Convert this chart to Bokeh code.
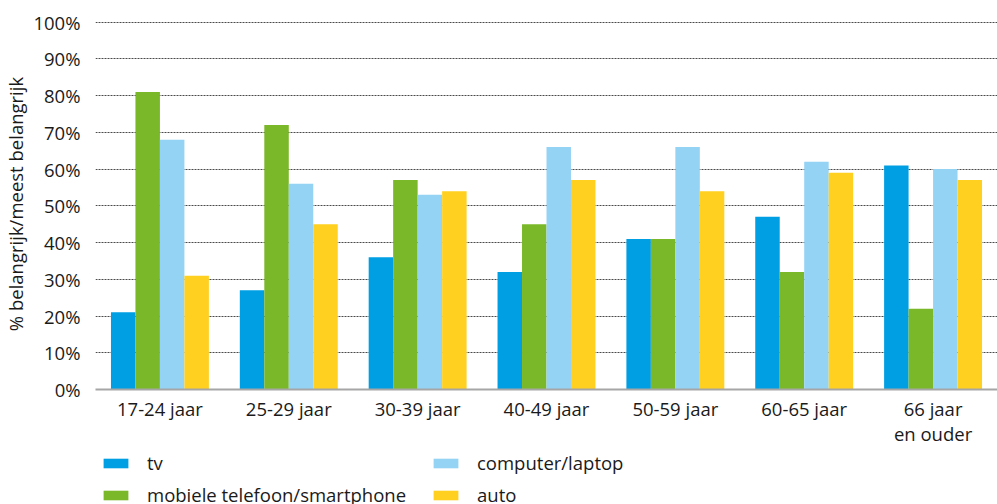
from bokeh.plotting import figure
from bokeh.layouts import column
from bokeh.models import Legend, LegendItem, Range1d, FactorRange, ColumnDataSource
from bokeh.transform import dodge
from bokeh.embed import file_html
from bokeh.resources import INLINE

ages = ["17-24 jaar", "25-29 jaar", "30-39 jaar", "40-49 jaar", "50-59 jaar", "60-65 jaar", "66 jaar\nen ouder"]
tv = [21, 27, 36, 32, 41, 47, 61]
mobiel = [81, 72, 57, 45, 41, 32, 22]
computer = [68, 56, 53, 66, 66, 62, 60]
auto = [31, 45, 54, 57, 54, 59, 57]
series_names = ["tv", "mobiele telefoon/smartphone", "computer/laptop", "auto"]
colors = ["#009FE3", "#7AB829", "#95D3F5", "#FFD020"]
yticks = [0, 10, 20, 30, 40, 50, 60, 70, 80, 90, 100]

src = ColumnDataSource(dict(age=ages, idx=list(range(len(ages))), tv=tv, mobiel=mobiel,
                            computer=computer, auto=auto))

FONT = "Open Sans"
FS = "18.5px"

p = figure(x_range=FactorRange(*ages, range_padding=0), y_range=Range1d(0, 101),
           width=997, height=449, output_backend="svg", toolbar_location=None,
           min_border_left=0, min_border_right=0, min_border_top=18, min_border_bottom=60)
p.outline_line_color = None

cols = ["tv", "mobiel", "computer", "auto"]
offsets = [-0.285, -0.095, 0.095, 0.285]
for c, off, col in zip(cols, offsets, colors):
    p.vbar(x=dodge("age", off, range=p.x_range), top=c, width=0.19, source=src,
           fill_color=col, line_color=None)

p.xgrid.grid_line_color = None
p.ygrid.grid_line_color = "#4a4a4a"
p.ygrid.grid_line_dash = "2 1"
p.ygrid.grid_line_width = 1
p.yaxis.ticker = yticks
p.yaxis.major_label_overrides = {v: f"{v}%" for v in yticks}

p.yaxis.axis_line_color = None
p.yaxis.major_tick_line_color = None
p.yaxis.minor_tick_line_color = None
p.yaxis.major_tick_out = 0
p.yaxis.major_tick_in = 0
p.yaxis.minor_tick_out = 0
p.yaxis.major_label_standoff = 15
p.yaxis.axis_label = "% belangrijk/meest belangrijk"
p.yaxis.axis_label_standoff = 2
p.yaxis.axis_label_text_font_style = "normal"

p.xaxis.axis_line_color = "#A6A6A6"
p.xaxis.axis_line_width = 2
p.xaxis.major_tick_line_color = None
p.xaxis.minor_tick_line_color = None
p.xaxis.major_tick_out = 0
p.xaxis.major_tick_in = 0
p.xaxis.minor_tick_out = 0
p.xaxis.major_label_standoff = 6
p.xaxis.major_label_text_line_height = 1.0

for ax in (p.xaxis[0], p.yaxis[0]):
    ax.major_label_text_font = FONT
    ax.major_label_text_font_size = FS
    ax.major_label_text_color = "#1a1a1a"
    ax.axis_label_text_font = FONT
    ax.axis_label_text_font_size = FS
    ax.axis_label_text_color = "#1a1a1a"

# legend strip below the chart (its bars lie outside its visible range; only the legend shows)
lg = figure(x_range=Range1d(0, 1), y_range=Range1d(500, 501), width=997, height=58,
            output_backend="svg", toolbar_location=None,
            min_border_left=0, min_border_right=0, min_border_top=0, min_border_bottom=0)
lg.outline_line_color = None
lg.axis.visible = False
lg.grid.visible = False
lrs = [lg.vbar(x="idx", top=c, width=0.1, source=src, fill_color=col, line_color=None)
       for c, col in zip(cols, colors)]
items = [LegendItem(label=n, renderers=[r]) for n, r in zip(series_names, lrs)]
legend = Legend(items=items, orientation="vertical", nrows=2,
                glyph_width=31, glyph_height=12, label_standoff=16,
                label_text_font=FONT, label_text_font_size=FS, label_text_color="#1a1a1a",
                label_width=276, spacing=7, padding=0, margin=0,
                border_line_color=None, background_fill_alpha=0,
                location=(5, 0))
lg.add_layout(legend, "center")

open("out.html", "w").write(file_html(column(p, lg, spacing=0), INLINE))
